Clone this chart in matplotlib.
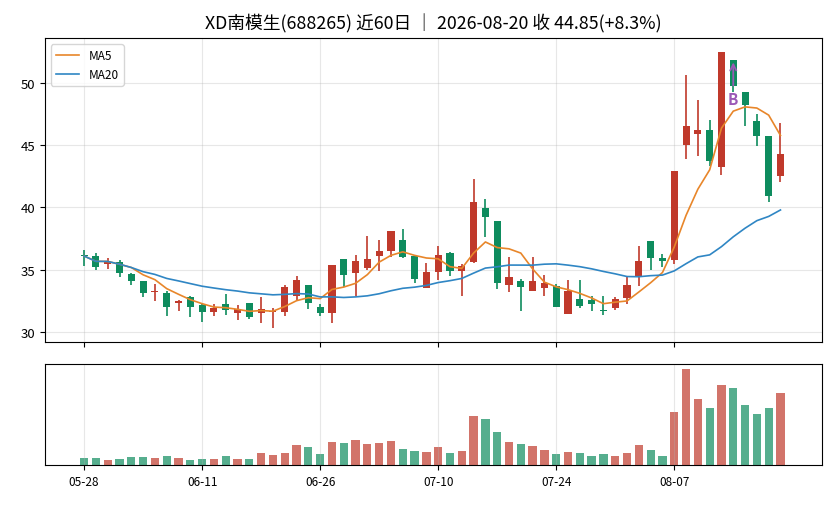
import numpy as np
import pandas as pd
import matplotlib
matplotlib.use('Agg')
import matplotlib.pyplot as plt

plt.rcParams['font.family'] = ['Noto Sans CJK SC', 'DejaVu Sans']
plt.rcParams['axes.unicode_minus'] = False

# daily prices (adjusted)
opens = [36.2, 36.1, 35.5, 35.62, 34.64, 34.11, 33.2, 33.14, 32.32, 32.82,
         32.18, 31.62, 32.24, 31.49, 32.34, 31.49, 31.6, 31.57, 32.93, 33.79,
         32.05, 31.49, 35.86, 34.77, 35.14, 36.13, 36.53, 37.38, 36.08, 33.57,
         34.85, 36.34, 34.93, 35.62, 39.94, 38.9, 33.81, 34.1, 33.3, 33.57,
         33.68, 31.41, 32.66, 32.58, 31.78, 31.92, 32.77, 34.45, 37.3, 35.94,
         35.78, 45.01, 45.89, 46.21, 43.25, 51.86, 49.29, 46.94, 45.74, 42.56]
highs = [36.58, 36.37, 35.94, 35.76, 34.72, 34.11, 33.84, 33.28, 32.61, 32.88,
         32.24, 32.24, 33.04, 32.16, 32.34, 32.8, 31.92, 33.75, 34.5, 33.79,
         32.26, 35.38, 35.86, 36.18, 37.67, 37.38, 38.1, 38.24, 36.08, 35.52,
         36.88, 36.45, 35.46, 42.26, 40.66, 38.9, 36.0, 34.26, 36.0, 34.56,
         33.84, 34.16, 34.14, 32.88, 32.88, 32.82, 34.45, 36.88, 37.3, 36.26,
         42.9, 50.66, 48.63, 47.01, 52.45, 51.86, 49.29, 47.48, 45.74, 46.78]
lows = [35.28, 34.99, 35.09, 34.4, 33.79, 32.85, 32.48, 31.28, 31.68, 31.2,
        30.8, 31.28, 31.39, 30.97, 31.06, 30.7, 30.32, 31.28, 32.61, 31.86,
        31.28, 30.72, 33.6, 32.93, 35.0, 34.88, 36.0, 35.94, 33.92, 33.52,
        34.16, 34.53, 32.88, 35.57, 37.64, 33.44, 33.2, 31.68, 33.3, 32.88,
        32.0, 31.41, 31.94, 31.68, 31.33, 31.76, 32.24, 33.73, 35.01, 35.25,
        35.5, 43.87, 44.13, 43.33, 42.61, 49.3, 46.54, 44.89, 40.41, 42.0]
closes = [36.1, 35.25, 35.65, 34.77, 34.13, 33.17, 33.3, 32.05, 32.5, 31.97,
          31.57, 31.94, 31.78, 31.86, 31.17, 31.86, 31.7, 33.65, 34.2, 32.37,
          31.49, 35.38, 34.61, 35.7, 35.86, 36.5, 38.1, 36.02, 34.29, 34.8,
          36.18, 34.93, 35.33, 40.45, 39.25, 33.94, 34.42, 33.62, 34.1, 33.94,
          32.05, 33.3, 32.13, 32.25, 31.65, 32.66, 33.78, 35.73, 35.97, 35.73,
          42.9, 46.5, 46.21, 43.73, 52.45, 49.73, 48.22, 45.74, 40.89, 44.29]
volumes = [7, 7, 5, 6, 8, 8, 7, 9, 7, 5,
           6, 6, 9, 6, 6, 12, 10, 12, 20, 18,
           11, 23, 22, 25, 21, 22, 24, 16, 14, 13,
           18, 12, 14, 49, 46, 33, 23, 21, 19, 15,
           11, 13, 12, 9, 11, 9, 12, 20, 15, 9,
           53, 97, 67, 57, 81, 78, 60, 51, 57, 73]
tick_labels = ['05-28', '06-11', '06-26', '07-10', '07-24', '08-07']
buy_day = 55

df = pd.DataFrame({'open': opens, 'high': highs, 'low': lows,
                   'close': closes, 'vol': volumes})
df['ma5'] = df['close'].rolling(5, min_periods=1).mean()
df['ma20'] = df['close'].rolling(20, min_periods=1).mean()
x = np.arange(len(df))

up_c = '#c0392b'
dn_c = '#0e8c5e'
colors = [up_c if c >= o else dn_c for o, c in zip(df['open'], df['close'])]

fig = plt.figure(figsize=(8.36, 5.06), dpi=100)
gs = fig.add_gridspec(2, 1, height_ratios=[3, 1], hspace=0.109,
                      left=0.054, right=0.983, top=0.922, bottom=0.079)
ax = fig.add_subplot(gs[0])
axv = fig.add_subplot(gs[1], sharex=ax)

# candles
ax.vlines(x, df['low'], df['high'], colors=colors, linewidth=1.2, zorder=2)
body_bot = np.minimum(df['open'], df['close'])
body_h = np.maximum(np.abs(df['close'] - df['open']), 0.06)
ax.bar(x, body_h, bottom=body_bot, width=0.6, color=colors, zorder=3)

ax.plot(x, df['ma5'], color='#e8862a', linewidth=1.2, label='MA5', zorder=4)
ax.plot(x, df['ma20'], color='#2f86c4', linewidth=1.2, label='MA20', zorder=4)

# buy marker
ax.annotate('B', xy=(buy_day, df['high'][buy_day]), xytext=(buy_day, 48.7),
            ha='center', va='center', color='#9b59b6', fontsize=11,
            fontweight='bold', zorder=5,
            arrowprops=dict(arrowstyle='->', color='#9b59b6', lw=1.3))

ax.grid(True, alpha=0.3)
ax.legend(loc='upper left', fontsize=8.5)
ax.tick_params(labelbottom=False, labelsize=9.5)
ax.set_title('XD南模生(688265) 近60日 ｜ 2026-08-20 收 44.85(+8.3%)',
             fontsize=12.8, pad=7)

# volume
axv.bar(x, df['vol'], width=0.7, color=colors, alpha=0.7)
axv.set_yticks([])
axv.grid(True, axis='x', alpha=0.3)
axv.set_xticks(x[::10])
axv.set_xticklabels(tick_labels, fontsize=8.5)
axv.set_xlim(-3.3, 62.5)

fig.savefig('out.png', dpi=100)
